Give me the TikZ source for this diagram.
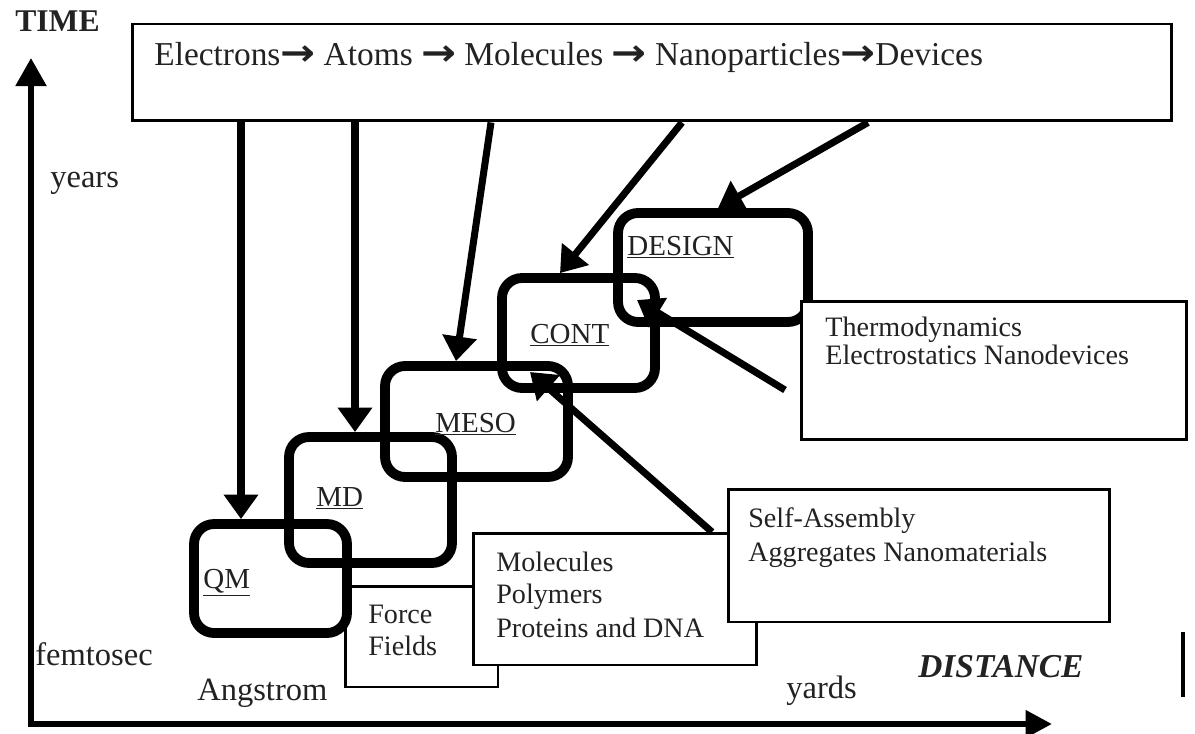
\documentclass[tikz,border=0pt]{standalone}
\usepackage{fontspec}
\setmainfont{Liberation Serif}
\newfontfamily\arrowfont{DejaVu Sans}
\usetikzlibrary{arrows.meta, positioning}
\definecolor{ink}{HTML}{222222}
\newcommand{\chainarrow}{\scalebox{1.25}[1.1]{\arrowfont\bfseries →}}

\begin{document}
\begin{tikzpicture}[x=0.02cm, y=-0.02cm,
  rbox/.style={draw, line width=5.6pt, rounded corners=0.4cm, inner sep=0pt},
  tbox/.style={draw, fill=white, line width=1.7pt, inner sep=0pt},
  lbl/.style={font=\fontsize{16.5}{19}\selectfont, text=ink, anchor=base west, inner sep=0pt},
  txt/.style={font=\fontsize{16}{19}\selectfont, text=ink, anchor=base west, inner sep=0pt},
  unit/.style={font=\fontsize{18.5}{22}\selectfont, text=ink, anchor=base west, inner sep=0pt},
  arr/.style={line width=4pt, -{Triangle[width=19pt,length=14pt]}},
  axis/.style={line width=3.4pt, line join=miter}]
  \useasboundingbox (0,0) rectangle (1195,733);

  % Axes
  \coordinate (ytip) at (31,58);
  \coordinate (origin) at (31,724);
  \coordinate (xtip) at (1052,724);
  \draw[axis, {Triangle[width=17pt,length=16pt]}-{Triangle[width=15pt,length=15pt]}]
    (ytip) -- (origin) -- (xtip);
  \node[font=\fontsize{18}{22}\selectfont\bfseries, text=ink, anchor=base west, inner sep=0pt]
    (time) at (15,32) {TIME};
  \node[unit] (years) at (50,188) {years};
  \node[unit] (femto) at (35,665) {femtosec};
  \node[unit] (angstrom) at (197,700) {Angstrom};
  \node[unit] (yards) at (786,698) {yards};
  \node[font=\fontsize{19}{22}\selectfont\bfseries\itshape, text=ink, anchor=base west, inner sep=0pt]
    (dist) at (918,677) {DISTANCE};
  \draw[line width=1.8pt] (1183,632) -- (1183,697);

  % Scale chain
  \node[draw, line width=1.7pt, minimum width=20.8cm, minimum height=1.94cm] (chain) at (652,72.5) {};
  \node[font=\fontsize{19}{22}\selectfont, text=ink, anchor=base west, inner sep=0pt]
    (chaintext) at (154,66) {Electrons\chainarrow{} Atoms \chainarrow{} Molecules \chainarrow{} Nanoparticles\chainarrow{}Devices};

  % Force field box (behind)
  \node[tbox, minimum width=3.06cm, minimum height=2.02cm] (force) at (421.5,636.5) {};

  % Methods
  \node[rbox, minimum width=3.06cm, minimum height=2.18cm] (qm) at (270.5,578.5) {};
  \node[rbox, minimum width=3.26cm, minimum height=2.52cm] (md) at (370.5,500) {};
  \node[rbox, minimum width=3.66cm, minimum height=2.22cm] (meso) at (476.5,421.5) {};
  \node[rbox, minimum width=3.06cm, minimum height=2.2cm] (cont) at (578.5,333) {};
  \node[rbox, minimum width=3.8cm, minimum height=2.18cm] (design) at (713,267.5) {};
  \node[lbl] (qmlbl) at (203,588) {\underline{QM}};
  \node[lbl] (mdlbl) at (316,506) {\underline{MD}};
  \node[lbl] (mesolbl) at (435,432) {\underline{MESO}};
  \node[lbl] (contlbl) at (530,343) {\underline{CONT}};
  \node[lbl] (designlbl) at (627,255) {\underline{DESIGN}};

  % Application boxes
  \node[tbox, minimum width=5.68cm, minimum height=2.64cm] (mols) at (615,599) {};
  \node[tbox, minimum width=7.64cm, minimum height=2.66cm] (self) at (919,555.5) {};
  \node[tbox, minimum width=7.72cm, minimum height=2.78cm] (thermo) at (994,370.5) {};
  \node[txt] (force1) at (368,623) {Force};
  \node[txt] (force2) at (368,655) {Fields};
  \node[txt] (mols1) at (496,571) {Molecules};
  \node[txt] (mols2) at (496,603) {Polymers};
  \node[txt] (mols3) at (496,637) {Proteins and DNA};
  \node[txt] (self1) at (748,527) {Self-Assembly};
  \node[txt] (self2) at (748,561) {Aggregates Nanomaterials};
  \node[txt] (thermo1) at (825,336) {Thermodynamics};
  \node[txt] (thermo2) at (825,364) {Electrostatics Nanodevices};

  % Arrows
  \coordinate (a1) at (241,0);
  \coordinate (a2) at (355,0);
  \coordinate (a3) at (491,0);
  \coordinate (a4) at (456,0);
  \coordinate (a5) at (682,0);
  \coordinate (a6) at (560,0);
  \coordinate (a7) at (868,0);
  \coordinate (a8) at (718,0);
  \coordinate (thermotail) at (785,390);
  \coordinate (thermohead) at (637,300);
  \coordinate (selftail) at (712,532);
  \coordinate (selfhead) at (530,372);
  \draw[arr] (chain.south -| a1) -- (qm.north -| a1);
  \draw[arr] (chain.south -| a2) -- (md.north -| a2);
  \draw[arr] (chain.south -| a3) -- (meso.north -| a4);
  \draw[arr] (chain.south -| a5) -- (cont.north -| a6);
  \draw[arr] (chain.south -| a7) -- (design.north -| a8);
  \draw[arr] (thermotail) -- (thermohead);
  \draw[arr] (selftail) -- (selfhead);
\end{tikzpicture}
\end{document}
